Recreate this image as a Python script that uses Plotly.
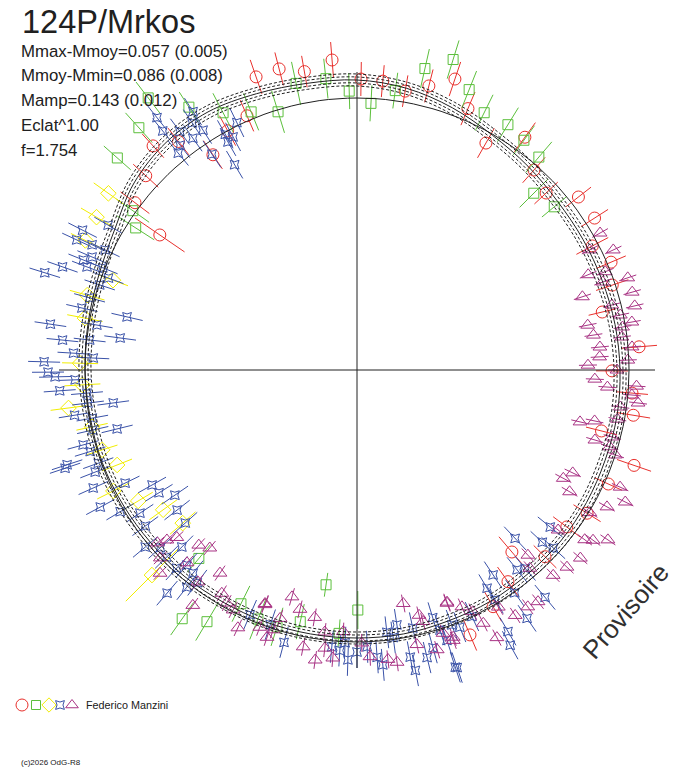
import numpy as np
import plotly.graph_objects as go

# ---------------- data (phase angle in degrees, clockwise from top; radius in plot units) ----
RED_THETA = [341, 345.5, 350, 355.4, 0.8, 5.1, 9.8, 14.2, 18.6, 23, 29.6, 331.6, 336.6, 326.2, 317.7,
             322, 312.6, 307, 304.4, 35.8, 41.5, 46.9, 52, 57.4, 62.2, 67, 71.6, 76.7, 85.3, 90.2,
             94.8, 99.3, 104, 109, 114.4, 121.9, 126.8, 139.6, 134.8, 144.5, 150.1, 156.9]
RED_R = [310, 311, 303, 311, 291, 290, 283, 293, 307, 284, 261, 272, 277, 259, 303,
         290, 287, 278, 239, 287, 267, 259, 281, 282, 266, 276, 269, 252, 283, 255,
         276, 280, 252, 293, 276, 271, 262, 239, 265, 260, 273, 288]
RED_ERR = [18, 17, 16, 18, 17, 16, 16, 17, 18, 18, 17, 17, 17, 17, 16,
           17, 17, 18, 30, 18, 17, 16, 16, 16, 18, 16, 17, 14, 18, 16,
           16, 17, 16, 18, 15, 16, 17, 20, 16, 18, 17, 17]

GREEN_THETA = [332.5, 337.7, 343, 348, 353.9, 358.4, 3, 7.8, 12.7, 17.2, 21.8, 26.3, 31.6, 36, 40.5,
               45, 50.4, 322.5, 327.4, 318, 311.5, 305.4, 302.7, 220, 215.1, 210.8, 206.4, 201.7,
               197.3, 188.2, 179.8, 192.7, 183.9]
GREEN_R = [290, 279, 270, 293, 293, 279, 267, 282, 309, 325, 302, 287, 288, 284, 280,
           250, 256, 343, 312, 326, 320, 275, 263, 246, 304, 293, 261, 268,
           269, 217, 240, 258, 264]
GREEN_ERR = [22, 20, 22, 22, 20, 18, 18, 18, 20, 20, 20, 20, 20, 18, 20,
             20, 16, 20, 18, 20, 18, 20, 22, 18, 20, 22, 20, 22,
             20, 12, 19, 18, 14]

YELLOW_THETA = [305.4, 300.4, 295.5, 290.2, 285.5, 280.8, 271.4, 266.9, 262.5, 257.9, 252.6, 248.4,
                243.6, 239.1, 234.2, 228.7, 225]
YELLOW_R = [305, 302, 301, 260, 280, 277, 277, 275, 291, 271, 267, 258, 272, 255, 239, 232, 290]
YELLOW_ERR = [18, 18, 16, 16, 18, 18, 18, 18, 18, 16, 16, 16, 18, 17, 17, 17, 37]

BLUE_THETA = [320.9, 321.8, 326.3, 327.3, 324.7, 320.5, 326.1, 330.8, 332, 334.1, 329.2, 330.5, 321.6, 327.6, 323.4,
              300.2, 297, 294.9, 295.5, 293.1, 290.9, 289.3, 287.3, 291.9, 290.3, 288.3, 285.1, 282.7, 279.8,
              278.5, 283, 275.8, 277.7, 276.4, 273.4, 271.5, 272.6, 269.6, 268.7, 268, 266, 265.1, 263, 262.3,
              260.9, 259.7, 257.2, 256.2, 254.7, 253, 251.9, 250.2, 295.3, 291.9,
              251.4, 248.7, 245.9, 244, 241.9, 239.1, 240.7, 238.2, 235.5, 236.6, 232.1, 228.3, 233.6, 230.1,
              227.9, 225.5, 224.7, 222.3, 221.1, 220.4, 216.9, 218.1, 218.9, 203.6, 198.8, 195,
              173.5, 171.1, 172.3, 167.8, 163, 162.3, 159.6, 182.5, 180, 181.8, 177.9, 176, 175, 169.5, 169,
              166.3, 164.7, 161.4, 161.6, 185.2, 183.5,
              136.8, 129.1, 132.9, 132.2, 139.7, 141.3, 146.4, 144.7, 140.4, 145.6, 149.2, 149, 150, 150.9,
              155, 158.2, 161.7]
BLUE_R = [308, 286, 297, 285, 284, 281, 260, 270, 264, 275, 239, 262, 322, 306, 297,
          288, 308, 309, 279, 288, 289, 312, 327, 274, 265, 271, 277, 282, 264,
          310, 236, 296, 239, 269, 284, 313, 264, 309, 302, 282, 298, 271, 271, 246,
          286, 269, 271, 247, 284, 279, 305, 275, 293, 295,
          308, 281, 289, 258, 291, 276, 235, 233, 221, 260, 228, 230, 263, 276,
          265, 267, 249, 268, 259, 293, 266, 276, 261, 267, 269, 282,
          264, 258, 270, 264, 259, 273, 272, 273, 282, 290, 277, 288, 296, 292, 306,
          296, 288, 314, 285, 278, 281,
          231, 249, 253, 265, 260, 256, 246, 273, 295, 301, 254, 268, 302, 315,
          272, 277, 313]
BLUE_ERR = 16

MAGENTA_THETA = [70.3, 74.2, 72, 75.7, 77, 78.2, 79, 80.1, 80.8, 81.6, 82.9, 84.6, 85.2, 86.9, 87.9,
                 88.8, 90, 92.2, 93.9, 93.3, 95.2, 96.7, 98, 100.7, 103.1, 102.1, 106.4, 104.7, 106.9, 108.2,
                 60.6, 64.9, 62.7, 67.6, 68.4, 71.2,
                 115.5, 117.7, 119.8, 114, 116.2, 118.7, 121.5, 126.7, 125.8, 124.1, 130.1, 133.2, 136.3,
                 128.5, 137.3, 138.9, 142, 144.2, 147.2, 149.2, 153.5, 152.4, 154.4, 158.9, 156.1, 160.2, 161.9,
                 196, 201.5, 193.4, 189.7, 197.2, 187, 183, 191, 188.2, 186.6, 184.8, 177.4, 179, 173.9, 172.2,
                 168.8, 165.8, 165.3, 167.7, 164, 158.8, 160.4,
                 229.1, 228.2, 227.1, 226.3, 224.1, 222.1, 219.6, 221.4, 216.9, 214.9, 214, 211.2, 209.2,
                 207.3, 204.8, 201.4, 200.7, 198.6, 197.9]
MAGENTA_R = [261, 286, 237, 263, 285, 269, 235, 279, 269, 239, 267, 244, 276, 243, 271,
             231, 260, 238, 251, 280, 276, 283, 266, 265, 229, 243, 248, 264, 264, 272,
             279, 283, 262, 250, 267, 286,
             239, 233, 245, 288, 299, 285, 273, 284, 291, 303, 292, 288, 284,
             257, 252, 263, 294, 292, 292, 276, 283, 302, 268, 250, 259, 284, 277,
             236, 251, 246, 251, 260, 264, 262, 282, 293, 280, 289, 287, 273, 291, 295,
             238, 253, 260, 281, 291, 249, 287,
             264, 255, 246, 272, 283, 236, 231, 257, 265, 287, 245, 261, 267,
             270, 284, 252, 275, 282, 273]
MAGENTA_ERR = 9

# fitted light curve (radius vs phase angle) and its uncertainty envelopes
FIT_THETA = [0, 10, 20, 30, 40, 50, 60, 70, 80, 90, 100, 110, 120, 130, 140, 150, 160, 170,
             180, 190, 200, 210, 220, 230, 240, 250, 260, 270, 280, 290, 300, 310, 320, 330, 340, 350]
FIT_R = [290, 286, 279, 271, 266, 262, 261, 261, 262, 263, 264, 264, 265, 266, 266, 267, 267, 268,
         268, 268, 268, 268, 269, 269, 270, 271, 271, 272, 273, 275, 280, 291, 297, 298, 294, 291]
FIT_SIGMA = [-6, -3, 3, 6]
MEAN_RADIUS = 272

TITLE = "124P/Mrkos"
STATS = ["Mmax-Mmoy=0.057 (0.005)", "Mmoy-Mmin=0.086 (0.008)", "Mamp=0.143 (0.012)",
         "Eclat^1.00", "f=1.754"]
OBSERVER = "Federico Manzini"
COPYRIGHT = "(c)2026 OdG-R8"
WATERMARK = "Provisoire"

for a, b in [(RED_THETA, RED_R), (RED_THETA, RED_ERR), (GREEN_THETA, GREEN_R), (GREEN_THETA, GREEN_ERR),
             (YELLOW_THETA, YELLOW_R), (YELLOW_THETA, YELLOW_ERR), (BLUE_THETA, BLUE_R),
             (MAGENTA_THETA, MAGENTA_R), (FIT_THETA, FIT_R)]:
    assert len(a) == len(b), (len(a), len(b))

# ---------------- helpers ----------------
W, H = 688, 768
CX, CY = 357, 370          # pixel position of the pole
AXIS_R = 298

COL_RED = "#e8302c"
COL_GREEN = "#5cbf3c"
COL_YELLOW = "#f2ee00"
COL_BLUE = "#3a52a8"
COL_MAG = "#a83384"
INK = "#202020"
FONT = "Liberation Sans, Arial, sans-serif"


def to_xy(theta, r):
    t = np.radians(np.asarray(theta, float))
    r = np.asarray(r, float)
    return r * np.sin(t), r * np.cos(t)


def err_segments(theta, r, err):
    err = np.broadcast_to(np.asarray(err, float), np.shape(r))
    xs, ys = [], []
    for t, rr, e in zip(theta, r, err):
        x0, y0 = to_xy(t, rr - e)
        x1, y1 = to_xy(t, rr + e)
        xs += [float(x0), float(x1), None]
        ys += [float(y0), float(y1), None]
    return xs, ys


fig = go.Figure()

series = [
    (RED_THETA, RED_R, RED_ERR, COL_RED, "circle-open", 12, 12),
    (GREEN_THETA, GREEN_R, GREEN_ERR, COL_GREEN, "square-open", 10, 9),
    (YELLOW_THETA, YELLOW_R, YELLOW_ERR, COL_YELLOW, "diamond-open", 12, 11),
    (BLUE_THETA, BLUE_R, BLUE_ERR, COL_BLUE, "star-square-open", 8, 8),
    (MAGENTA_THETA, MAGENTA_R, MAGENTA_ERR, COL_MAG, "triangle-up-open", 12, 11),
]
for th, rr, ee, col, sym, sz, lsz in series:
    ex, ey = err_segments(th, rr, ee)
    fig.add_trace(go.Scatter(x=ex, y=ey, mode="lines", line=dict(color=col, width=1),
                             hoverinfo="skip", showlegend=False))
    x, y = to_xy(th, rr)
    fig.add_trace(go.Scatter(x=x, y=y, mode="markers",
                             marker=dict(symbol=sym, size=sz, color=col, line=dict(width=1, color=col)),
                             hoverinfo="skip", showlegend=False))

# mean-level circle
circ_t = np.arange(0, 361, 2)
cx_, cy_ = to_xy(circ_t, np.full(circ_t.shape, MEAN_RADIUS))
fig.add_trace(go.Scatter(x=cx_, y=cy_, mode="lines", line=dict(color=INK, width=1),
                         hoverinfo="skip", showlegend=False))

# fitted curve and envelopes (closed, smoothed)
ft = FIT_THETA + [FIT_THETA[0] + 360]
fr = np.array(FIT_R + [FIT_R[0]], float)
for s in FIT_SIGMA:
    x, y = to_xy(ft, fr + s)
    fig.add_trace(go.Scatter(x=x, y=y, mode="lines", line=dict(color=INK, width=1, dash="3px,2px", shape="spline"),
                             hoverinfo="skip", showlegend=False))
x, y = to_xy(ft, fr)
fig.add_trace(go.Scatter(x=x, y=y, mode="lines", line=dict(color=INK, width=1, shape="spline"),
                         hoverinfo="skip", showlegend=False))

# cross axes through the pole
fig.add_trace(go.Scatter(x=[-AXIS_R, AXIS_R, None, 0, 0], y=[0, 0, None, -AXIS_R, AXIS_R], mode="lines",
                         line=dict(color=INK, width=1), hoverinfo="skip", showlegend=False))

# legend symbols (layout positions in pixel axes)
LEG_X = [22, 36, 49, 60, 72]
LEG_Y = 705
for lx, (th, rr, ee, col, sym, sz, lsz) in zip(LEG_X, series):
    fig.add_trace(go.Scatter(x=[lx], y=[LEG_Y], xaxis="x2", yaxis="y2", mode="markers",
                             marker=dict(symbol=sym, size=lsz, color=col, line=dict(width=1, color=col)),
                             hoverinfo="skip", showlegend=False))

ann = []
ann.append(dict(text=TITLE, x=20 / W, y=1 - 22 / H, xref="paper", yref="paper", xanchor="left",
                yanchor="middle", showarrow=False, font=dict(family=FONT, size=32.5, color=INK)))
for i, s in enumerate(STATS):
    ann.append(dict(text=s, x=19 / W, y=1 - (51 + 24.8 * i) / H, xref="paper", yref="paper", xanchor="left",
                    yanchor="middle", showarrow=False, font=dict(family=FONT, size=16.8, color=INK)))
ann.append(dict(text=OBSERVER, x=84 / W, y=1 - 705 / H, xref="paper", yref="paper", xanchor="left",
                yanchor="middle", showarrow=False, font=dict(family=FONT, size=10.8, color=INK)))
ann.append(dict(text=COPYRIGHT, x=19 / W, y=1 - 762 / H, xref="paper", yref="paper", xanchor="left",
                yanchor="middle", showarrow=False, font=dict(family=FONT, size=8, color=INK)))
ann.append(dict(text=WATERMARK, x=626 / W, y=1 - 611 / H, xref="paper", yref="paper", xanchor="center",
                yanchor="middle", textangle=-49, showarrow=False, font=dict(family=FONT, size=26, color="#303030")))

fig.update_layout(
    width=W, height=H, autosize=False,
    margin=dict(l=0, r=0, t=0, b=0, pad=0),
    paper_bgcolor="white", plot_bgcolor="white",
    showlegend=False,
    xaxis=dict(range=[-CX, W - CX], visible=False, fixedrange=True),
    yaxis=dict(range=[-(H - CY), CY], visible=False, fixedrange=True),
    xaxis2=dict(range=[0, W], overlaying="x", visible=False, fixedrange=True),
    yaxis2=dict(range=[H, 0], overlaying="y", visible=False, fixedrange=True),
    annotations=ann,
)

fig.write_html("out.html", config=dict(displayModeBar=False, staticPlot=True),
               post_script="document.body.style.margin='0';document.body.style.overflow='hidden';")
